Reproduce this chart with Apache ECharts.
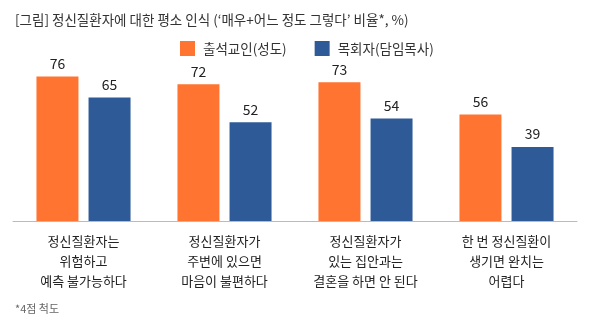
<!DOCTYPE html>
<html><head><meta charset="utf-8">
<script src="https://cdn.jsdelivr.net/npm/echarts@6/dist/echarts.min.js"></script>
<style>html,body{margin:0;padding:0;background:#fff}#c{width:590px;height:328px}</style>
</head><body><div id="c"></div>
<script>
var categories = [
  "정신질환자는\n위험하고\n예측 불가능하다",
  "정신질환자가\n주변에 있으면\n마음이 불편하다",
  "정신질환자가\n있는 집안과는\n결혼을 하면 안 된다",
  "한 번 정신질환이\n생기면 완치는\n어렵다"
];
var seriesNames = ["출석교인(성도)", "목회자(담임목사)"];
var congregants = [76, 72, 73, 56];
var pastors = [65, 52, 54, 39];
var titleText = "[그림] 정신질환자에 대한 평소 인식 (‘매우+어느 정도 그렇다’ 비율*, %)";
var footnote = "*4점 척도";

var font = "'Noto Sans CJK KR', 'Noto Sans', sans-serif";
var chart = echarts.init(document.getElementById('c'), null, {renderer: 'canvas'});
chart.setOption({
  animation: false,
  textStyle: {fontFamily: font},
  title: [
    {text: titleText, left: 10, top: 8, textStyle: {fontSize: 13.5, fontWeight: 'normal', color: '#333', fontFamily: font}},
    {text: footnote, left: 10, top: 298, textStyle: {fontSize: 11, fontWeight: 'normal', color: '#666', fontFamily: font}}
  ],
  legend: {
    top: 36, left: 175, itemWidth: 15, itemHeight: 15, itemGap: 28,
    icon: 'rect',
    textStyle: {fontSize: 13.5, color: '#333', fontFamily: font, padding: [0, 0, 0, 3]},
    data: seriesNames
  },
  grid: {left: 13, right: 13, top: 31, bottom: 107, containLabel: false},
  xAxis: {
    type: 'category', data: categories,
    axisLine: {lineStyle: {color: '#bbb', width: 1}},
    axisTick: {show: false},
    axisLabel: {fontSize: 13, color: '#222', lineHeight: 20, margin: 10, interval: 0, fontFamily: font}
  },
  yAxis: {type: 'value', min: 0, max: 100, show: false, splitLine: {show: false}},
  series: [
    {name: seriesNames[0], type: 'bar', data: congregants, barWidth: 42, barGap: '24%',
     itemStyle: {color: '#FF7430'},
     label: {show: true, position: 'top', distance: 6, fontSize: 14, color: '#222', fontFamily: font}},
    {name: seriesNames[1], type: 'bar', data: pastors, barWidth: 42,
     itemStyle: {color: '#2E5B97'},
     label: {show: true, position: 'top', distance: 6, fontSize: 14, color: '#222', fontFamily: font}}
  ]
});
</script></body></html>
